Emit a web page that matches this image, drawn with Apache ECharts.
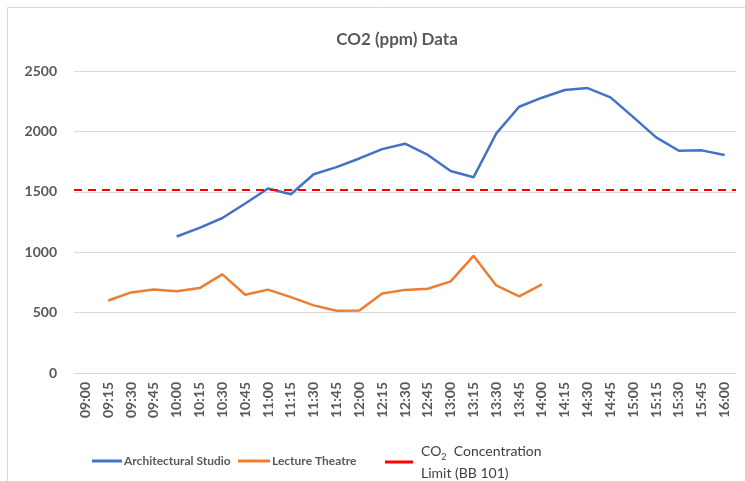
<!DOCTYPE html>
<html>
<head>
<meta charset="utf-8">
<script src="https://cdn.jsdelivr.net/npm/echarts@6/dist/echarts.min.js"></script>
<style>
  html, body { margin: 0; padding: 0; background: #fff; }
  #main { width: 745px; height: 481px; }
</style>
</head>
<body>
<div id="main"></div>
<script>
// categories (15 min steps)
var times = ['09:00','09:15','09:30','09:45','10:00','10:15','10:30','10:45','11:00','11:15',
  '11:30','11:45','12:00','12:15','12:30','12:45','13:00','13:15','13:30','13:45',
  '14:00','14:15','14:30','14:45','15:00','15:15','15:30','15:45','16:00'];

var studio = [null, null, null, null, 1130, 1202, 1283, 1403, 1527, 1480,
  1645, 1704, 1776, 1853, 1898, 1805, 1672, 1620, 1984, 2204,
  2279, 2343, 2359, 2282, 2118, 1951, 1840, 1843, 1805];

var theatre = [null, 600, 667, 692, 677, 703, 816, 648, 690, 628,
  560, 515, 518, 658, 688, 697, 758, 970, 725, 634,
  733, null, null, null, null, null, null, null, null];

var limitValue = 1520;
var yTicks = [0, 2500, 500];

var labelGray = '#595959';
var gridGray = '#d9d9d9';
var fontFam = 'Lato, "Open Sans", sans-serif';

var chart = echarts.init(document.getElementById('main'));

var option = {
  backgroundColor: '#fff',
  animation: false,
  title: {
    text: 'CO2 (ppm) Data',
    left: 392,
    top: 26,
    textAlign: 'center',
    textStyle: { color: labelGray, fontSize: 17, fontWeight: 'bold', fontFamily: fontFam }
  },
  graphic: [{
    type: 'rect',
    shape: { x: 7.5, y: 7.5, width: 760, height: 490 },
    style: { fill: 'none', stroke: gridGray, lineWidth: 1 },
    silent: true
  }],
  grid: { left: 74, right: 9, top: 71, bottom: 108 },
  legend: [
    {
      data: ['Architectural Studio'],
      left: 92, top: 455, padding: 0,
      icon: 'rect', itemWidth: 30, itemHeight: 3, itemGap: 0,
      textStyle: { color: labelGray, fontSize: 12, fontWeight: 'bold', fontFamily: fontFam, padding: [0, 0, 0, -3] }
    },
    {
      data: ['Lecture Theatre'],
      left: 238, top: 455, padding: 0,
      icon: 'rect', itemWidth: 32, itemHeight: 3,
      textStyle: { color: labelGray, fontSize: 12, fontWeight: 'bold', fontFamily: fontFam, padding: [0, 0, 0, -3] }
    },
    {
      data: ['limit'],
      left: 385, top: 440, padding: 0,
      icon: 'rect', itemWidth: 28, itemHeight: 3,
      formatter: function() { return 'CO{sub|2}  Concentration\nLimit (BB 101)'; },
      textStyle: {
        color: '#404040', fontSize: 14, fontFamily: fontFam, lineHeight: 22, padding: [0, 0, 0, 3],
        rich: { sub: { fontSize: 9, verticalAlign: 'bottom', padding: [8, 0, 0, 0], fontFamily: fontFam, color: '#404040' } }
      }
    }
  ],
  xAxis: {
    type: 'category',
    data: times,
    boundaryGap: true,
    axisLine: { lineStyle: { color: gridGray } },
    axisTick: { show: false },
    axisLabel: {
      rotate: 90,
      interval: 0,
      margin: 9,
      color: labelGray,
      fontSize: 14,
      fontWeight: 'bold',
      fontFamily: fontFam
    }
  },
  yAxis: {
    type: 'value',
    min: yTicks[0],
    max: yTicks[1],
    interval: yTicks[2],
    axisLine: { show: false },
    axisTick: { show: false },
    axisLabel: {
      color: labelGray, fontSize: 14, fontWeight: 'bold', fontFamily: fontFam, margin: 17,
      formatter: function(v) { return String(v); }
    },
    splitLine: { lineStyle: { color: gridGray, width: 1 } }
  },
  series: [
    {
      name: 'Architectural Studio',
      type: 'line',
      data: studio,
      symbol: 'none',
      color: '#4472C4',
      lineStyle: { width: 2.5, color: '#4472C4' }
    },
    {
      name: 'Lecture Theatre',
      type: 'line',
      data: theatre,
      symbol: 'none',
      color: '#ED7D31',
      lineStyle: { width: 2.5, color: '#ED7D31' }
    },
    {
      name: 'limit',
      type: 'line',
      data: [],
      color: '#FF0000',
      markLine: {
        silent: true,
        symbol: 'none',
        label: { show: false },
        lineStyle: { color: '#FF0000', type: [8, 6], width: 2 },
        data: [{ yAxis: limitValue }]
      }
    }
  ]
};

chart.setOption(option);
</script>
</body>
</html>
